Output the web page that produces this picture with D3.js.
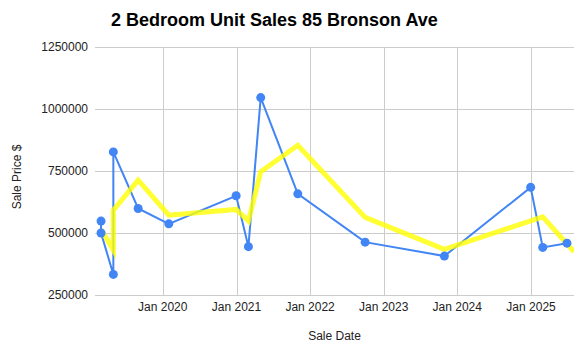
<!DOCTYPE html>
<html>
<head>
<meta charset="utf-8">
<script src="https://cdn.jsdelivr.net/npm/d3@7"></script>
<style>
  body { margin: 0; background: #fff; }
  #chart { width: 587px; height: 354px; }
  text { font-family: "Liberation Sans", Arial, sans-serif; }
</style>
</head>
<body>
<div id="chart"></div>
<script>
// Sales (blue series)
const saleDates = ["2019-03-01", "2019-03-01", "2019-05-01", "2019-05-01", "2019-09-01", "2020-01-31",
    "2020-12-30", "2021-03-01", "2021-05-01", "2021-11-01", "2022-10-01", "2023-10-29",
    "2024-12-30", "2025-02-28", "2025-06-28"];
const salePrices = [548000, 500000, 333000, 827000, 599000, 537000,
    650000, 445000, 1046000, 658000, 463000, 407000,
    684000, 442000, 459000];

// Trend (yellow series)
const trendDates = ["2019-03-01", "2019-05-01", "2019-05-01", "2019-09-01", "2020-01-31", "2020-12-30",
    "2021-03-01", "2021-05-01", "2021-11-01", "2022-10-01", "2023-10-29", "2025-02-28", "2025-08-02"];
const trendValues = [515000, 431000, 592000, 713000, 572000, 595000,
    548000, 747000, 854000, 563000, 434000, 565000, 424000];

const yTicks = [250000, 500000, 750000, 1000000, 1250000];
const xDomain = ["2019-01-30", "2025-08-02"];

const parse = d3.timeParse("%Y-%m-%d");
const sales = saleDates.map((d, i) => ({ date: parse(d), value: salePrices[i] }));
const trend = trendDates.map((d, i) => ({ date: parse(d), value: trendValues[i] }));

const width = 587, height = 354;
const plot = { left: 95, right: 574, top: 47, bottom: 295 };

const svg = d3.select("#chart").append("svg")
    .attr("width", width)
    .attr("height", height);

const x = d3.scaleTime()
    .domain(xDomain.map(parse))
    .range([plot.left, plot.right]);

const y = d3.scaleLinear()
    .domain([250000, 1250000])
    .range([plot.bottom, plot.top]);

// Title
svg.append("text")
    .attr("x", 111)
    .attr("y", 26)
    .attr("fill", "#000")
    .style("font-size", "18px")
    .style("font-weight", "bold")
    .text("2 Bedroom Unit Sales 85 Bronson Ave");

// Gridlines
const xTicks = x.ticks(d3.timeYear.every(1)).filter(d => d > x.domain()[0]);

svg.append("g")
    .selectAll("line")
    .data(yTicks)
    .join("line")
    .attr("x1", plot.left)
    .attr("x2", plot.right)
    .attr("y1", d => Math.round(y(d)) + 0.5)
    .attr("y2", d => Math.round(y(d)) + 0.5)
    .attr("stroke", "#cccccc");

svg.append("g")
    .selectAll("line")
    .data(xTicks)
    .join("line")
    .attr("x1", d => Math.round(x(d)) + 0.5)
    .attr("x2", d => Math.round(x(d)) + 0.5)
    .attr("y1", plot.top)
    .attr("y2", plot.bottom)
    .attr("stroke", "#cccccc");

// Tick labels
svg.append("g")
    .selectAll("text")
    .data(yTicks)
    .join("text")
    .attr("x", 88)
    .attr("y", d => y(d) + 4)
    .attr("text-anchor", "end")
    .attr("fill", "#222")
    .style("font-size", "12px")
    .text(d => d3.format("d")(d));

svg.append("g")
    .selectAll("text")
    .data(xTicks)
    .join("text")
    .attr("x", d => x(d))
    .attr("y", 311)
    .attr("text-anchor", "middle")
    .attr("fill", "#222")
    .style("font-size", "12px")
    .text(d3.timeFormat("%b %Y"));

// Axis titles
svg.append("text")
    .attr("x", (plot.left + plot.right) / 2)
    .attr("y", 340)
    .attr("text-anchor", "middle")
    .attr("fill", "#222")
    .style("font-size", "12px")
    .text("Sale Date");

svg.append("text")
    .attr("transform", "translate(21,177) rotate(-90)")
    .attr("text-anchor", "middle")
    .attr("fill", "#222")
    .style("font-size", "12px")
    .text("Sale Price $");

// Clip to plot area
svg.append("defs").append("clipPath")
    .attr("id", "plot-clip")
    .append("rect")
    .attr("x", plot.left)
    .attr("y", plot.top - 10)
    .attr("width", plot.right - plot.left)
    .attr("height", plot.bottom - plot.top + 20);

const line = d3.line()
    .x(d => x(d.date))
    .y(d => y(d.value));

const series = svg.append("g").attr("clip-path", "url(#plot-clip)");

series.append("path")
    .datum(sales)
    .attr("fill", "none")
    .attr("stroke", "#4285f4")
    .attr("stroke-width", 2)
    .attr("d", line);

series.append("path")
    .datum(trend)
    .attr("fill", "none")
    .attr("stroke", "#ffff00")
    .attr("stroke-opacity", 0.8)
    .attr("stroke-width", 5)
    .attr("d", line);

svg.append("g")
    .selectAll("circle")
    .data(sales)
    .join("circle")
    .attr("cx", d => x(d.date))
    .attr("cy", d => y(d.value))
    .attr("r", 4.5)
    .attr("fill", "#4285f4");
</script>
</body>
</html>
